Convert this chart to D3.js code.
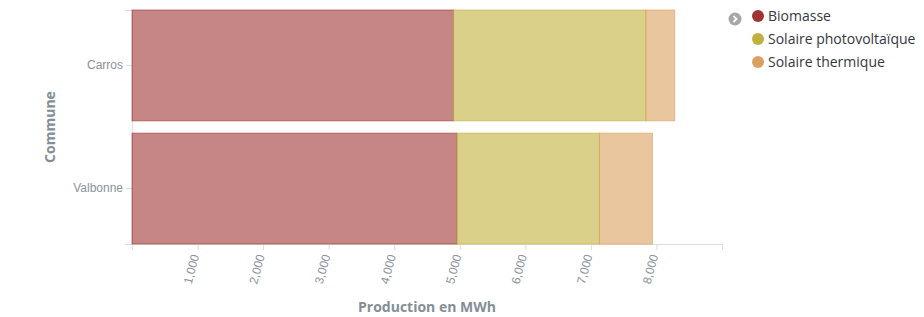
<!DOCTYPE html>
<html>
<head>
<meta charset="utf-8">
<script src="https://cdn.jsdelivr.net/npm/d3@7"></script>
<style>
  body { margin: 0; background: #fff; }
  svg { display: block; font-family: "Open Sans", sans-serif; }
</style>
</head>
<body>
<div id="chart"></div>
<script>
// data
var communes = ["Carros", "Valbonne"];
var sources = ["Biomasse", "Solaire photovoltaïque", "Solaire thermique"];
var biomasse = [4905, 4957];
var photovoltaique = [2932, 2173];
var thermique = [442, 809];
var xTicks = [1000, 2000, 3000, 4000, 5000, 6000, 7000, 8000];
var colors = ["#9e3533", "#c1b13c", "#daa05d"];

var width = 924, height = 317;
var margin = {top: 10, right: 202, bottom: 73, left: 132};

var rows = communes.map((c, i) => ({
    commune: c,
    "Biomasse": biomasse[i],
    "Solaire photovoltaïque": photovoltaique[i],
    "Solaire thermique": thermique[i]
}));

var stack = d3.stack().keys(sources)(rows);

var svg = d3.select("#chart").append("svg")
    .attr("width", width)
    .attr("height", height);

var x = d3.scaleLinear()
    .domain([0, 9000])
    .range([margin.left, width - margin.right]);

var y = d3.scaleBand()
    .domain(communes)
    .range([margin.top, height - margin.bottom])
    .paddingInner(0.1)
    .paddingOuter(0);

var color = d3.scaleOrdinal(sources, colors);

// x axis
var gx = svg.append("g")
    .attr("transform", `translate(0,${height - margin.bottom})`)
    .call(d3.axisBottom(x).tickValues(xTicks).tickFormat(d3.format(",")).tickSize(6).tickSizeOuter(6));
gx.select(".domain").attr("stroke", "#ddd");
gx.selectAll(".tick line").attr("stroke", "#ddd");
gx.selectAll(".tick text")
    .attr("fill", "#8a939b")
    .style("font-size", "12px")
    .attr("text-anchor", "end")
    .attr("transform", "rotate(-75)")
    .attr("x", -11)
    .attr("y", 0)
    .attr("dy", "0.35em");

// y axis
var gy = svg.append("g")
    .attr("transform", `translate(${margin.left},0)`)
    .call(d3.axisLeft(y).tickSize(6).tickSizeOuter(7));
gy.select(".domain").attr("stroke", "#ddd");
gy.selectAll(".tick line").attr("stroke", "#ddd");
gy.selectAll(".tick text")
    .attr("fill", "#8a939b")
    .style("font-size", "12px");

// bars
svg.append("g")
  .selectAll("g")
  .data(stack)
  .join("g")
    .attr("fill", d => color(d.key))
    .attr("stroke", d => color(d.key))
  .selectAll("rect")
  .data(d => d)
  .join("rect")
    .attr("x", d => x(d[0]))
    .attr("y", d => y(d.data.commune))
    .attr("width", d => x(d[1]) - x(d[0]))
    .attr("height", y.bandwidth())
    .attr("fill-opacity", 0.6)
    .attr("stroke-opacity", 0.6)
    .attr("stroke-width", 1);

// axis titles
svg.append("text")
    .attr("x", (x.range()[0] + x.range()[1]) / 2)
    .attr("y", 312)
    .attr("text-anchor", "middle")
    .attr("fill", "#848e96")
    .style("font-size", "14px")
    .style("font-weight", "bold")
    .text("Production en MWh");

svg.append("text")
    .attr("transform", `translate(55,${(y.range()[0] + y.range()[1]) / 2}) rotate(-90)`)
    .attr("text-anchor", "middle")
    .attr("fill", "#848e96")
    .style("font-size", "14px")
    .style("font-weight", "bold")
    .text("Commune");

// legend
var toggle = svg.append("g").attr("transform", "translate(735,19)");
toggle.append("circle").attr("r", 6.5).attr("fill", "#a7a7a7");
toggle.append("path")
    .attr("d", "M-1.5,-3 L1.5,0 L-1.5,3")
    .attr("fill", "none")
    .attr("stroke", "#fff")
    .attr("stroke-width", 1.8);

var legend = svg.append("g").attr("transform", "translate(758,16)");
var item = legend.selectAll("g")
  .data(sources)
  .join("g")
    .attr("transform", (d, i) => `translate(0,${i * 23})`);
item.append("circle")
    .attr("r", 6)
    .attr("fill", d => color(d));
item.append("text")
    .attr("x", 10)
    .attr("dy", "0.35em")
    .attr("fill", "#343741")
    .style("font-size", "14px")
    .text(d => d);
</script>
</body>
</html>
